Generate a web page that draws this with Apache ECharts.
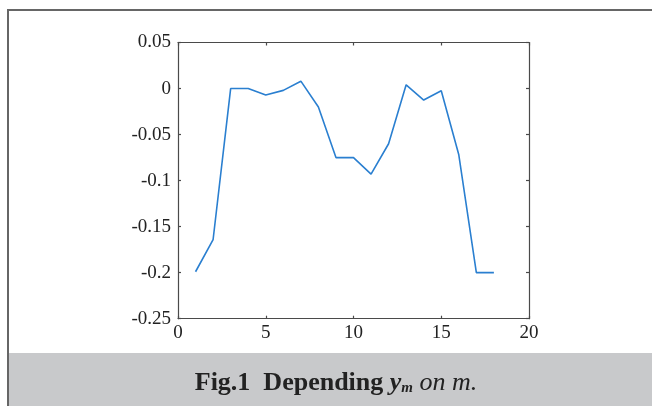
<!DOCTYPE html>
<html>
<head>
<meta charset="utf-8">
<script src="https://cdn.jsdelivr.net/npm/echarts@6/dist/echarts.min.js"></script>
<style>
html,body{margin:0;padding:0;background:#fff;}
#c{width:652px;height:406px;}
</style>
</head>
<body>
<div id="c"></div>
<script>
const mValues = [1,2,3,4,5,6,7,8,9,10,11,12,13,14,15,16,17,18];
const yValues = [-0.199,-0.164,0,0,-0.007,-0.002,0.008,-0.020,-0.075,-0.075,-0.093,-0.060,0.004,-0.0125,-0.0024,-0.072,-0.2,-0.2];
const xTicks = [0,5,10,15,20];
const yTickLabels = ['-0.25','-0.2','-0.15','-0.1','-0.05','0','0.05'];

const chart = echarts.init(document.getElementById('c'), null, {renderer:'canvas'});
const axisCol = '#4a4a4a';
const serif = '"Liberation Serif", "DejaVu Serif", serif';
function yFmt(v){
  const idx = Math.round((v + 0.25) / 0.05);
  return yTickLabels[idx] !== undefined ? yTickLabels[idx] : String(v);
}
const baseX = {
  type:'value', min:xTicks[0], max:xTicks[xTicks.length-1], interval:5,
  axisLine:{show:true, onZero:false, lineStyle:{color:axisCol, width:1.2}},
  axisTick:{show:true, inside:true, length:3, lineStyle:{color:axisCol, width:1.2}},
  splitLine:{show:false}
};
const baseY = {
  type:'value', min:-0.25, max:0.05, interval:0.05,
  axisLine:{show:true, onZero:false, lineStyle:{color:axisCol, width:1.2}},
  axisTick:{show:true, inside:true, length:3, lineStyle:{color:axisCol, width:1.2}},
  splitLine:{show:false}
};
chart.setOption({
  animation:false,
  backgroundColor:'#fff',
  graphic:[
    {type:'rect', shape:{x:9, y:353, width:643, height:53}, style:{fill:'#c8c9cb'}, z:-1},
    {type:'polyline', shape:{points:[[8,406],[8,10],[652,10]]}, style:{stroke:'#666', lineWidth:2, fill:null}}
  ],
  title:{
    left:331, top:365, textAlign:'center',
    text:'{b|Fig.1  Depending }{bi|y}{sub|m}{i| on m.}',
    textStyle:{
      fontWeight:'normal',
      rich:{
        b:{fontFamily:serif, fontWeight:'bold', fontSize:26, color:'#222'},
        bi:{fontFamily:serif, fontWeight:'bold', fontStyle:'italic', fontSize:26, color:'#222'},
        sub:{fontFamily:serif, fontStyle:'italic', fontWeight:'bold', fontSize:15, color:'#222', verticalAlign:'bottom', padding:[10,0,0,0]},
        i:{fontFamily:serif, fontStyle:'italic', fontWeight:'normal', fontSize:26, color:'#222'}
      }
    }
  },
  grid:{left:178, right:123, top:42.5, bottom:87.3, containLabel:false},
  xAxis:[
    Object.assign({}, baseX, {position:'bottom',
      axisLabel:{show:true, fontFamily:serif, fontSize:19, color:'#222', margin:5}}),
    Object.assign({}, baseX, {position:'top', axisLabel:{show:false}})
  ],
  yAxis:[
    Object.assign({}, baseY, {position:'left',
      axisLabel:{show:true, fontFamily:serif, fontSize:19, color:'#222', margin:7, formatter:yFmt}}),
    Object.assign({}, baseY, {position:'right', axisLabel:{show:false}})
  ],
  series:[{
    type:'line', xAxisIndex:0, yAxisIndex:0,
    data: mValues.map((m,i)=>[m, yValues[i]]),
    showSymbol:false, symbol:'none',
    lineStyle:{color:'#2a7fd0', width:1.6},
    itemStyle:{color:'#2a7fd0'}
  }]
});
</script>
</body>
</html>
